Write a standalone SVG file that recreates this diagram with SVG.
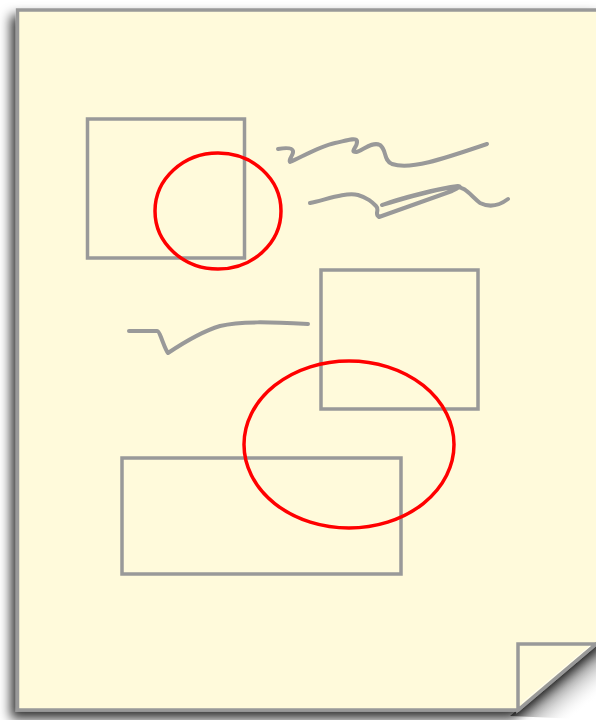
<svg xmlns="http://www.w3.org/2000/svg" width="596" height="720" viewBox="0 0 596 720">
  <defs>
    <filter id="shadow" x="-10%" y="-10%" width="120%" height="120%">
      <feDropShadow dx="-5" dy="7" stdDeviation="6" flood-color="#000" flood-opacity="0.8"/>
    </filter>
    <linearGradient id="foldShadow" gradientUnits="userSpaceOnUse" x1="557" y1="677" x2="584" y2="709">
      <stop offset="0" stop-color="#555555" stop-opacity="0.9"/>
      <stop offset="1" stop-color="#ffffff" stop-opacity="0"/>
    </linearGradient>
    <style>
      .page { fill: #fffadb; stroke: #999999; stroke-width: 3.5; stroke-linejoin: miter; }
      .box { fill: none; stroke: #999999; stroke-width: 3.5; }
      .mark { fill: none; stroke: #ff0000; stroke-width: 3.5; }
      .scribble { fill: none; stroke: #999999; stroke-width: 4; stroke-linecap: round; stroke-linejoin: round; }
    </style>
  </defs>
  <rect width="596" height="720" fill="#ffffff"/>
  <g id="page">
    <path d="M600,640 L510,716 L600,720 Z" fill="url(#foldShadow)"/>
    <path class="page" filter="url(#shadow)" d="M17.5,10 L600,10 L600,644 L596,644 L518,710 L17.5,710 Z"/>
    <path class="page" d="M518,644 L596,644 L518,710 Z"/>
    <path d="M522,703 L590,646" stroke="#ffffff" stroke-width="1" opacity="0.7" fill="none"/>
  </g>
  <g id="box1"><rect class="box" x="87.5" y="119" width="157" height="139"/></g>
  <g id="box2"><rect class="box" x="321" y="270" width="157" height="139"/></g>
  <g id="box3"><rect class="box" x="122" y="458" width="279" height="116"/></g>
  <g id="scribbles">
    <path class="scribble" d="M278,149 C284,148 292,147 293,151 C294,155 288,159 290,162 C300,158 320,146 335,143 C345,141 356,137 357,141 C358,147 349,152 356,152 C362,151 372,141 380,145 C387,150 383,160 392,164 C410,170 440,160 487,144"/>
    <path class="scribble" d="M310,203 C325,200 345,192 358,195 C368,198 372,202 376,206 C380,210 374,214 379,217 L452,191 C458,188 462,186 458,186 C440,188 400,198 382,205 C400,200 430,190 455,187 C465,186 470,195 480,203 C490,208 500,205 508,199"/>
    <path class="scribble" d="M129,331 L157,331 C160,331 164,348 168,353 C180,345 200,332 220,326 C240,321 270,322 308,324"/>
  </g>
  <g id="marks">
    <ellipse class="mark" cx="218" cy="211" rx="63" ry="58"/>
    <ellipse class="mark" cx="349" cy="444.5" rx="105" ry="83.5"/>
  </g>
</svg>
